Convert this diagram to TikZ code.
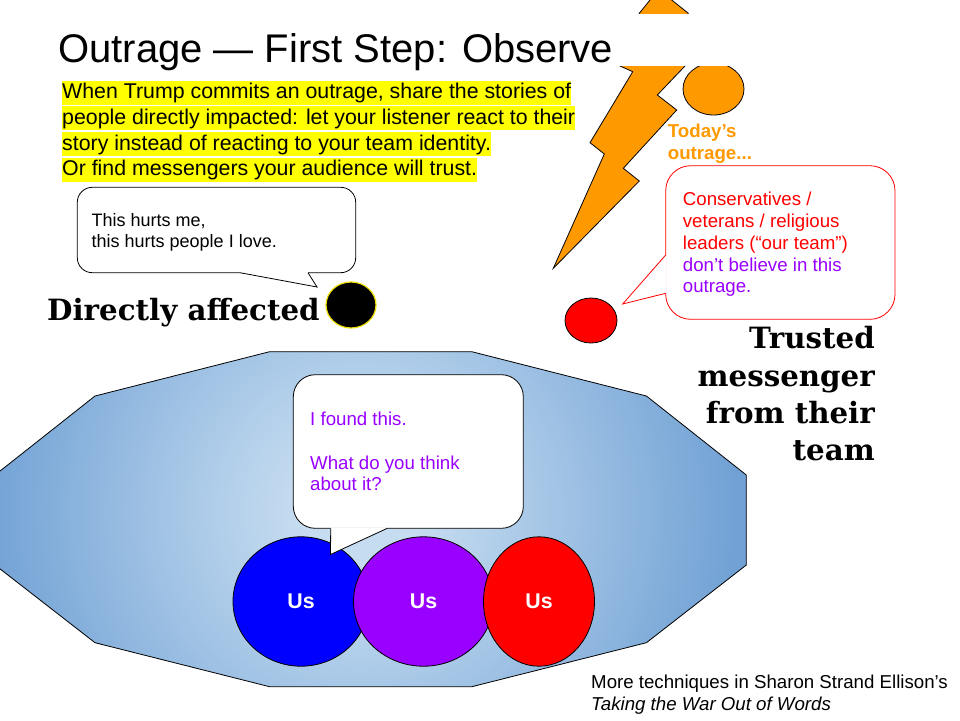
\documentclass[tikz,border=0pt]{standalone}
\usepackage{fontspec}
\setmainfont{Liberation Sans}
\newfontfamily\slabserif{DejaVu Serif}
\usetikzlibrary{shapes.geometric}

\definecolor{boltorange}{HTML}{FF9900}
\definecolor{teamblue}{HTML}{0000FF}
\definecolor{teampurple}{HTML}{9900FF}
\definecolor{teamred}{HTML}{FF0000}
\definecolor{marker}{HTML}{FFFF00}
\definecolor{ringyellow}{HTML}{F0E000}
\definecolor{hazeA}{HTML}{C6DCF0}
\definecolor{hazeB}{HTML}{ABCAE8}
\definecolor{hazeC}{HTML}{72A2D5}
\definecolor{hazeD}{HTML}{6E9FD3}
% light centre fading into a deeper blue; 25bp = shaded circle radius
\pgfdeclareradialshading{bluehaze}{\pgfpointorigin}{color(0bp)=(hazeA); color(2.9bp)=(hazeA); color(7.9bp)=(hazeB); color(18bp)=(hazeC); color(25bp)=(hazeD); color(50bp)=(hazeD)}

\begin{document}
\begin{tikzpicture}[x=1pt,y=-1pt,
  outline/.style={draw=black,line width=0.8pt},
  txt/.style={anchor=base west,inner sep=0pt,font=\fontsize{18.67}{22}\selectfont},
  hiline/.style={anchor=base west,inner xsep=0pt,inner ysep=0pt,fill=marker,
    text height=18pt,text depth=6pt,font=\fontsize{21.33}{25}\selectfont},
  slab/.style={inner sep=0pt,font=\slabserif\bfseries\fontsize{29.3}{37}\selectfont},
  team/.style={ellipse,outline,minimum height=129.4pt,inner sep=0pt,
    font=\bfseries\fontsize{21.33}{25}\selectfont,text=white},
  dot/.style={ellipse,inner sep=0pt}
]
\useasboundingbox (0,0) rectangle (960,720);

% lightning bolt and the outrage blob
\draw[outline,fill=boltorange,line join=miter]
  (639.3,13.3) -- (624,45) -- (620,66) -- (632.7,71.7) -- (590,142.7)
  -- (604.3,154) -- (553.3,268.3) -- (639.3,181) -- (623.3,168.3)
  -- (676.7,110) -- (657.3,95) -- (685,66) -- (688.3,13.3)
  -- (658.5,-10.6) -- cycle;
\node[dot,outline,fill=boltorange,minimum width=61pt,minimum height=52pt] (blob) at (713.5,89) {};

% title strip
\fill[white] (20,13.5) rectangle (800,65.8);
\node[anchor=base west,inner sep=0pt,font=\fontsize{40}{48}\selectfont] (title) at (58,62)
  {Outrage — First Step: Observe};

% highlighted intro
\node[hiline] (intro1) at (62,98.5) {When Trump commits an outrage, share the stories of};
\node[hiline] (intro2) at (62,124.3) {people directly impacted: let your listener react to their};
\node[hiline] (intro3) at (62,150.1) {story instead of reacting to your team identity.};
\node[hiline] (intro4) at (62,175.9) {Or find messengers your audience will trust.};

% speech bubble of the directly affected person
\draw[outline,fill=white,rounded corners=15pt] (77.3,187.3) rectangle (355.7,272.7);
\fill[white] (240,271.8) -- (240,272.7) -- (317,287) -- (308,272.7) -- (308,271.8) -- cycle;
\draw[outline,line join=miter] (240,272.7) -- (317,287) -- (308,272.7);
\node[txt,font=\fontsize{18}{21}\selectfont] (hurt1) at (91.5,226.5) {This hurts me,};
\node[txt,font=\fontsize{18}{21}\selectfont] (hurt2) at (91.5,247.5) {this hurts people I love.};

\node[slab,anchor=base west] (affectedlabel) at (47,320) {Directly affected};
\node[dot,fill=black,draw=ringyellow,line width=1.2pt,minimum width=50pt,minimum height=46pt] (affected) at (351,305) {};

% trusted messenger and its bubble
\node[dot,outline,fill=teamred,minimum width=52pt,minimum height=45pt] (messenger) at (591,320.5) {};
\draw[draw=teamred,fill=white,line width=0.8pt,rounded corners=25pt] (665.7,165.7) rectangle (895,319.3);
\fill[white] (666.6,255) -- (665.7,255) -- (622.7,304) -- (665.7,293.3) -- (666.6,293.3) -- cycle;
\draw[draw=teamred,line width=0.8pt,line join=miter] (665.7,255) -- (622.7,304) -- (665.7,293.3);
\node[txt,text=teamred] (cons1) at (682.7,205.7) {Conservatives /};
\node[txt,text=teamred] (cons2) at (682.7,227.3) {veterans / religious};
\node[txt,text=teamred] (cons3) at (682.7,249.3) {leaders (“our team”)};
\node[txt,text=teampurple] (cons4) at (682.7,271) {don’t believe in this};
\node[txt,text=teampurple] (cons5) at (682.7,292.7) {outrage.};

\node[txt,text=boltorange,font=\bfseries\fontsize{18.67}{22}\selectfont] (today1) at (667.7,137.7) {Today’s};
\node[txt,text=boltorange,font=\bfseries\fontsize{18.67}{22}\selectfont] (today2) at (667.7,159.3) {outrage...};

\node[slab,anchor=base east] (trust1) at (875,348.3) {Trusted};
\node[slab,anchor=base east] (trust2) at (875,386) {messenger};
\node[slab,anchor=base east] (trust3) at (875,423.3) {from their};
\node[slab,anchor=base east] (trust4) at (875,460) {team};

% the shared space of "us"
\begin{scope}
  \clip (269.6,351.7) -- (471.8,351.7) -- (646.4,396) -- (746.3,475) -- (746.3,565)
    -- (646.4,642.7) -- (471.8,686.7) -- (269.6,686.7) -- (95,642.7) -- (-5,565)
    -- (-5,475) -- (95,396) -- cycle;
  \shade[shading=bluehaze] (360,510) circle[radius=520pt];
\end{scope}
\draw[outline] (269.6,351.7) -- (471.8,351.7) -- (646.4,396) -- (746.3,475) -- (746.3,565)
    -- (646.4,642.7) -- (471.8,686.7) -- (269.6,686.7) -- (95,642.7) -- (-5,565)
    -- (-5,475) -- (95,396) -- cycle;

\node[team,fill=teamblue,minimum width=136pt] (usblue) at (301,601.5) {Us};
\node[team,fill=teampurple,minimum width=140pt] (uspurple) at (423.5,601.5) {Us};
\node[team,fill=teamred,minimum width=111pt] (usred) at (539,601.5) {Us};

% speech bubble of the blue speaker
\draw[outline,fill=white,rounded corners=22pt] (293.3,374.7) rectangle (523.3,528.3);
\fill[white] (330.7,527.4) -- (330.7,528.3) -- (330.5,554.5) -- (387.3,528.3) -- (387.3,527.4) -- cycle;
\draw[outline,line join=miter] (330.7,528.3) -- (330.5,554.5) -- (387.3,528.3);
\node[txt,text=teampurple] (ask1) at (310,425) {I found this.};
\node[txt,text=teampurple] (ask2) at (310,469.3) {What do you think};
\node[txt,text=teampurple] (ask3) at (310,490.7) {about it?};

% reference
\node[txt] (ref1) at (591,688.3) {More techniques in Sharon Strand Ellison’s};
\node[txt,font=\itshape\fontsize{18.67}{22}\selectfont] (ref2) at (591,710) {Taking the War Out of Words};
\end{tikzpicture}
\end{document}
